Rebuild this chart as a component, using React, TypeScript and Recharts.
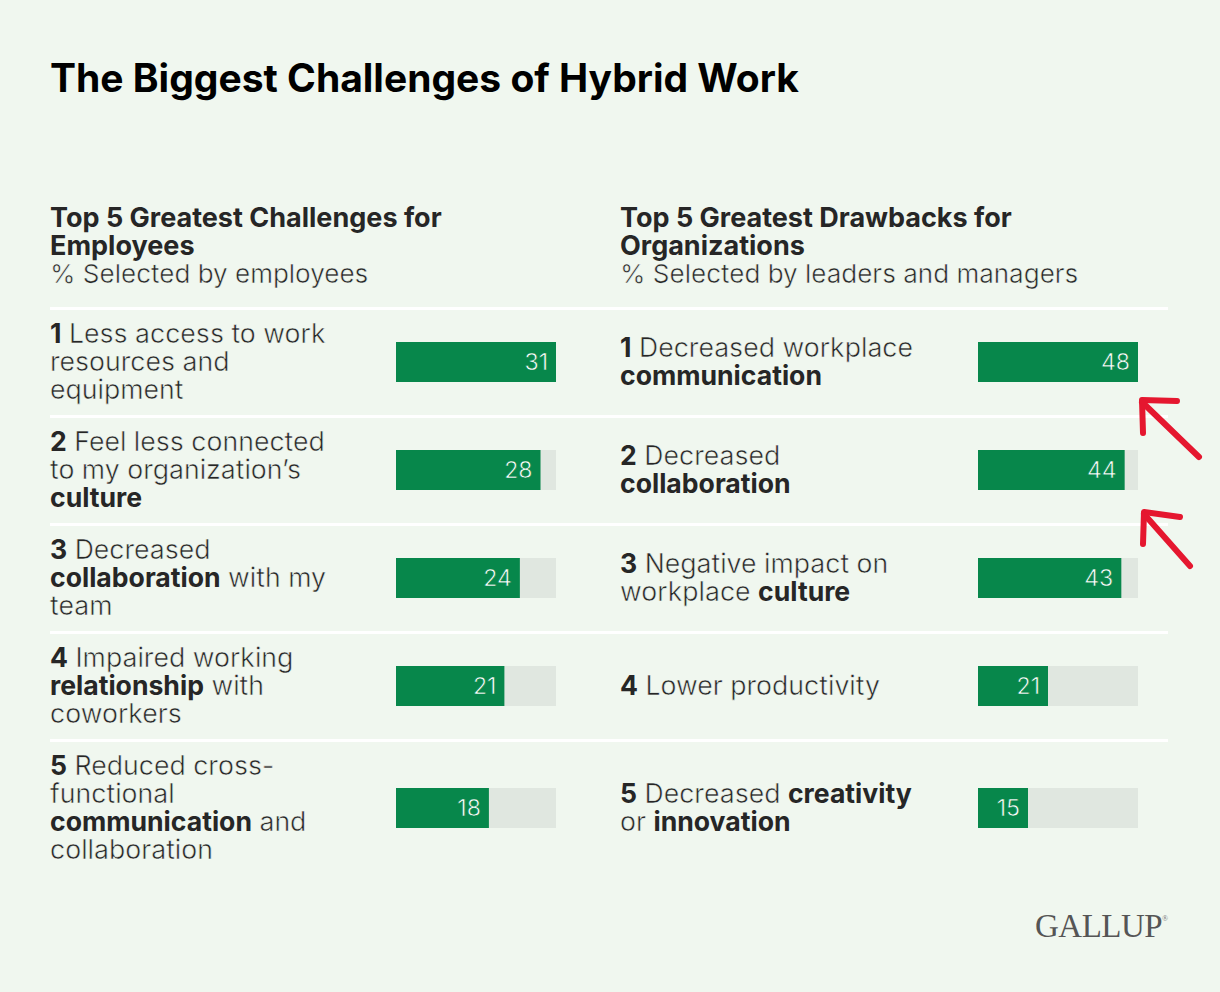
import React from 'react';
import { BarChart, Bar, XAxis, YAxis, LabelList } from 'recharts';

const TITLE = 'The Biggest Challenges of Hybrid Work';

const leftHeading = ['Top 5 Greatest Challenges for', 'Employees'];
const leftSub = '% Selected by employees';
const leftLabels = [
  'Less access to work\nresources and\nequipment',
  'Feel less connected\nto my organization’s\n*culture*',
  'Decreased\n*collaboration* with my\nteam',
  'Impaired working\n*relationship* with\ncoworkers',
  'Reduced cross-\nfunctional\n*communication* and\ncollaboration',
];
const leftValues = [31, 28, 24, 21, 18];

const rightHeading = ['Top 5 Greatest Drawbacks for', 'Organizations'];
const rightSub = '% Selected by leaders and managers';
const rightLabels = [
  'Decreased workplace\n*communication*',
  'Decreased\n*collaboration*',
  'Negative impact on\nworkplace *culture*',
  'Lower productivity',
  'Decreased *creativity*\nor *innovation*',
];
const rightValues = [48, 44, 43, 21, 15];

const BG = '#f0f7ef';
const GREEN = '#07874b';
const TRACK = '#e0e7e0';
const TEXT = '#262626';
const FONT = 'Inter, "Noto Sans", sans-serif';

const ROW_TOPS = [310, 418, 526, 634, 742];
const ROW_HEIGHTS = [105, 105, 105, 105, 132];
const ROW_SHIFT = [-2, -2, -2, -2, -1];
const DIVIDERS = [307, 415, 523, 631, 739];

const lightStyle: React.CSSProperties = {
  fontWeight: 400,
  WebkitTextStroke: `0.55px ${BG}`,
};

function renderLine(line: string, key: number, rank?: number) {
  const parts = line.split('*');
  return (
    <div key={key} style={{ whiteSpace: 'pre' }}>
      {rank !== undefined && <span style={{ fontWeight: 700 }}>{String(rank)}</span>}
      {parts.map((p, i) => {
        const txt = rank !== undefined && i === 0 ? ' ' + p : p;
        if (txt === '') return null;
        return (
          <span key={i} style={i % 2 === 1 ? { fontWeight: 700 } : lightStyle}>
            {txt}
          </span>
        );
      })}
    </div>
  );
}

function RowBar({ label, value, max }: { label: string; value: number; max: number }) {
  const data = [{ name: label, value }];
  return (
    <BarChart
      width={160}
      height={40}
      data={data}
      layout="vertical"
      margin={{ top: 0, right: 0, bottom: 0, left: 0 }}
      barCategoryGap="0%"
      barGap={0}
    >
      <XAxis type="number" domain={[0, max]} hide />
      <YAxis type="category" dataKey="name" hide />
      <Bar
        dataKey="value"
        fill={GREEN}
        background={{ fill: TRACK }}
        isAnimationActive={false}
      >
        <LabelList
          dataKey="value"
          position="insideRight"
          offset={8}
          fill="#ffffff"
          stroke={GREEN}
          strokeWidth={0.6}
          style={{ fontFamily: FONT, fontSize: 23, fontWeight: 400 }}
        />
      </Bar>
    </BarChart>
  );
}

function Panel({
  left,
  barLeft,
  heading,
  sub,
  labels,
  values,
}: {
  left: number;
  barLeft: number;
  heading: string[];
  sub: string;
  labels: string[];
  values: number[];
}) {
  const max = Math.max(...values);
  return (
    <>
      <div
        style={{
          position: 'absolute',
          left,
          top: 204,
          fontSize: 27,
          lineHeight: '28px',
          color: TEXT,
          fontFamily: FONT,
        }}
      >
        {heading.map((h, i) => (
          <div key={i} style={{ fontWeight: 700, whiteSpace: 'nowrap' }}>
            {h}
          </div>
        ))}
        <div style={{ ...lightStyle, fontSize: 26, whiteSpace: 'nowrap' }}>{sub}</div>
      </div>
      {labels.map((lab, i) => {
        const top = ROW_TOPS[i];
        const h = ROW_HEIGHTS[i];
        const center = top + h / 2;
        return (
          <React.Fragment key={i}>
            <div
              style={{
                position: 'absolute',
                left,
                top: top + ROW_SHIFT[i],
                height: h,
                display: 'flex',
                flexDirection: 'column',
                justifyContent: 'center',
                fontSize: 26.6,
                lineHeight: '28px',
                color: TEXT,
                fontFamily: FONT,
              }}
            >
              {lab.split('\n').map((ln, j) => renderLine(ln, j, j === 0 ? i + 1 : undefined))}
            </div>
            <div style={{ position: 'absolute', left: barLeft, top: Math.round(center - 20.5) }}>
              <RowBar label={lab} value={values[i]} max={max} />
            </div>
          </React.Fragment>
        );
      })}
    </>
  );
}

export default function App() {
  return (
    <div
      style={{
        position: 'absolute',
        left: 0,
        top: 0,
        width: 1220,
        height: 992,
        background: BG,
        overflow: 'hidden',
        fontFamily: FONT,
      }}
    >
      <div
        style={{
          position: 'absolute',
          left: 50,
          top: 55,
          fontSize: 39,
          fontWeight: 700,
          color: '#000',
          whiteSpace: 'nowrap',
          lineHeight: '46px',
        }}
      >
        {TITLE}
      </div>
      {DIVIDERS.map((y, i) => (
        <div
          key={i}
          style={{ position: 'absolute', left: 50, top: y, width: 1118, height: 3, background: '#ffffff' }}
        />
      ))}
      <Panel
        left={50}
        barLeft={396}
        heading={leftHeading}
        sub={leftSub}
        labels={leftLabels}
        values={leftValues}
      />
      <Panel
        left={620}
        barLeft={978}
        heading={rightHeading}
        sub={rightSub}
        labels={rightLabels}
        values={rightValues}
      />
      <svg
        style={{ position: 'absolute', left: 0, top: 0 }}
        width={1220}
        height={992}
        pointerEvents="none"
      >
        <g stroke="#e5172f" strokeWidth={6} strokeLinecap="round" strokeLinejoin="round" fill="none">
          <path d="M1177 401 L1142 400 L1143 433" />
          <path d="M1142 402 L1199 457" />
          <path d="M1180 517 L1144 512 L1143 544" />
          <path d="M1144 514 L1190 566" />
        </g>
        <text
          x={1035}
          y={937}
          fontFamily='"Liberation Serif", "DejaVu Serif", serif'
          fontSize={33}
          fill="#555555"
          letterSpacing={-0.5}
        >
          GALLUP
        </text>
        <text x={1162} y={921} fontFamily='"Liberation Serif", serif' fontSize={8} fill="#777">
          ®
        </text>
      </svg>
    </div>
  );
}
